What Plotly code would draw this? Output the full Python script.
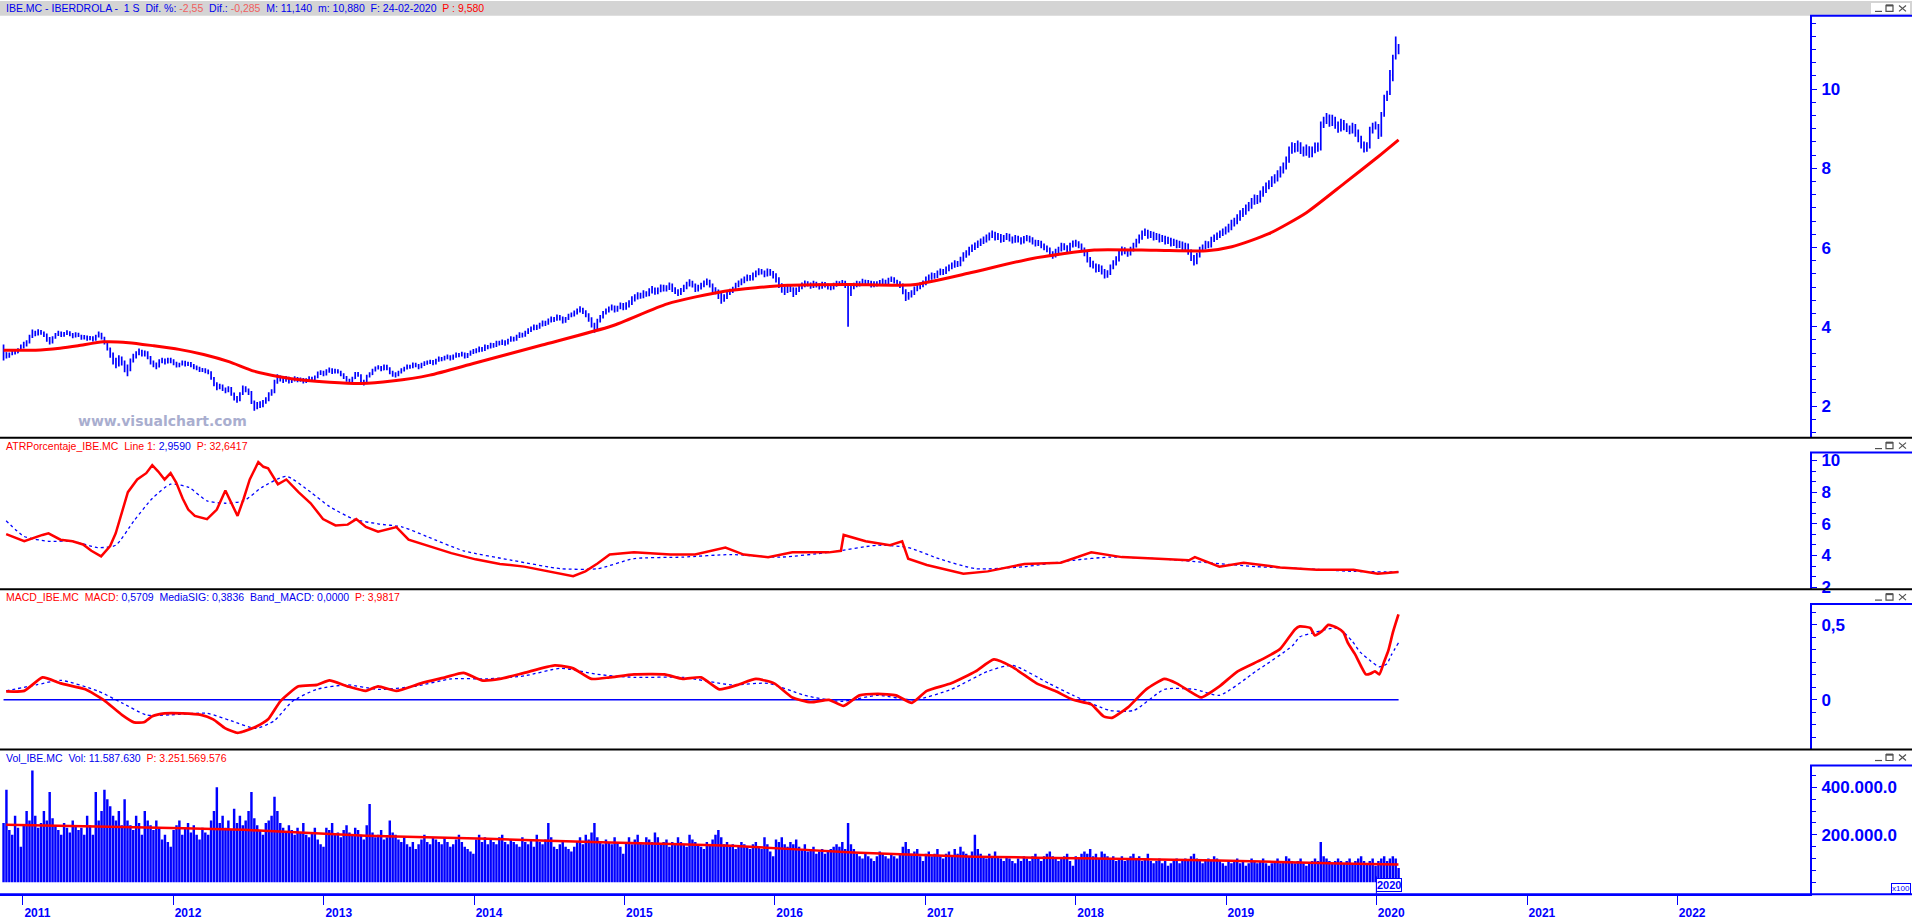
import pandas as pd
import plotly.graph_objects as go

W, H = 1912, 922
BLUE = "#0000FF"
RED = "#FF0000"

# ---------------- weekly price data (close / high / low) ----------------
first_open = 3.50
c10 = [3.35, 3.25, 3.30, 3.38, 3.35, 3.42, 3.50]
h10 = [3.55, 3.36, 3.35, 3.42, 3.42, 3.46, 3.55]
l10 = [3.15, 3.20, 3.22, 3.28, 3.30, 3.33, 3.40]
c11 = [3.55, 3.60, 3.75, 3.85, 3.82, 3.88, 3.85, 3.80, 3.70, 3.62, 3.72, 3.80, 3.85, 3.78, 3.82, 3.86, 3.80, 3.76, 3.82, 3.78, 3.72, 3.75, 3.70, 3.73, 3.68, 3.76, 3.82, 3.72, 3.60, 3.45, 3.30, 3.15, 3.05, 3.20, 3.10, 2.95, 2.90, 3.15, 3.25, 3.32, 3.38, 3.30, 3.35, 3.22, 3.10, 3.05, 3.00, 3.12, 3.15, 3.10, 3.18, 3.12]
h11 = [3.62, 3.66, 3.80, 3.93, 3.90, 3.94, 3.92, 3.88, 3.83, 3.74, 3.76, 3.84, 3.90, 3.88, 3.87, 3.91, 3.89, 3.84, 3.86, 3.85, 3.80, 3.79, 3.78, 3.77, 3.76, 3.80, 3.88, 3.85, 3.75, 3.63, 3.48, 3.35, 3.22, 3.28, 3.25, 3.15, 3.05, 3.20, 3.32, 3.38, 3.45, 3.42, 3.40, 3.38, 3.26, 3.15, 3.10, 3.18, 3.22, 3.20, 3.22, 3.22]
l11 = [3.45, 3.50, 3.58, 3.72, 3.76, 3.78, 3.80, 3.74, 3.62, 3.55, 3.58, 3.70, 3.77, 3.74, 3.75, 3.79, 3.76, 3.71, 3.73, 3.74, 3.67, 3.68, 3.65, 3.66, 3.63, 3.65, 3.73, 3.68, 3.55, 3.40, 3.22, 3.05, 2.95, 3.00, 3.02, 2.85, 2.75, 2.88, 3.10, 3.20, 3.28, 3.25, 3.25, 3.18, 3.05, 2.98, 2.93, 2.97, 3.08, 3.05, 3.07, 3.08]
c12 = [3.08, 3.02, 3.05, 3.10, 3.05, 3.08, 3.02, 2.98, 2.95, 2.90, 2.92, 2.88, 2.85, 2.70, 2.55, 2.45, 2.50, 2.42, 2.38, 2.45, 2.30, 2.20, 2.15, 2.30, 2.45, 2.40, 2.35, 2.10, 1.95, 2.05, 2.00, 2.10, 2.15, 2.30, 2.35, 2.60, 2.72, 2.68, 2.65, 2.70, 2.62, 2.66, 2.70, 2.65, 2.68, 2.62, 2.66, 2.70, 2.68, 2.72, 2.82, 2.85, 2.80]
h12 = [3.18, 3.12, 3.09, 3.15, 3.14, 3.12, 3.11, 3.06, 3.02, 2.99, 2.96, 2.95, 2.92, 2.88, 2.73, 2.60, 2.56, 2.54, 2.47, 2.50, 2.48, 2.34, 2.25, 2.35, 2.52, 2.50, 2.44, 2.38, 2.14, 2.10, 2.12, 2.15, 2.22, 2.35, 2.42, 2.66, 2.80, 2.77, 2.72, 2.76, 2.74, 2.71, 2.75, 2.73, 2.72, 2.71, 2.70, 2.75, 2.74, 2.77, 2.87, 2.90, 2.89]
l12 = [3.03, 2.97, 2.98, 3.02, 3.00, 3.01, 2.98, 2.93, 2.90, 2.86, 2.86, 2.83, 2.80, 2.66, 2.50, 2.40, 2.42, 2.38, 2.32, 2.35, 2.26, 2.14, 2.08, 2.12, 2.28, 2.35, 2.28, 2.05, 1.88, 1.92, 1.95, 1.97, 2.06, 2.12, 2.26, 2.32, 2.56, 2.62, 2.58, 2.61, 2.57, 2.58, 2.62, 2.60, 2.61, 2.57, 2.58, 2.63, 2.64, 2.65, 2.70, 2.78, 2.75]
c13 = [2.88, 2.92, 2.85, 2.90, 2.86, 2.80, 2.72, 2.65, 2.62, 2.70, 2.82, 2.78, 2.62, 2.58, 2.75, 2.80, 2.90, 2.95, 2.98, 2.92, 3.00, 2.95, 2.85, 2.80, 2.78, 2.85, 2.90, 2.95, 3.00, 2.98, 3.05, 3.02, 2.98, 3.05, 3.08, 3.10, 3.12, 3.08, 3.15, 3.20, 3.18, 3.22, 3.25, 3.20, 3.25, 3.30, 3.28, 3.32, 3.25, 3.30, 3.35, 3.38]
h13 = [2.93, 2.97, 2.95, 2.94, 2.93, 2.89, 2.83, 2.76, 2.69, 2.74, 2.86, 2.86, 2.80, 2.66, 2.79, 2.85, 2.94, 3.00, 3.03, 3.01, 3.05, 3.04, 2.98, 2.89, 2.85, 2.89, 2.95, 2.99, 3.05, 3.04, 3.10, 3.09, 3.06, 3.09, 3.13, 3.15, 3.17, 3.16, 3.19, 3.25, 3.24, 3.27, 3.30, 3.28, 3.30, 3.35, 3.34, 3.37, 3.35, 3.34, 3.40, 3.44]
l13 = [2.77, 2.84, 2.81, 2.82, 2.82, 2.75, 2.68, 2.61, 2.57, 2.59, 2.68, 2.74, 2.57, 2.52, 2.56, 2.72, 2.78, 2.87, 2.92, 2.88, 2.90, 2.90, 2.80, 2.74, 2.72, 2.75, 2.82, 2.87, 2.92, 2.94, 2.95, 2.98, 2.93, 2.95, 3.01, 3.04, 3.06, 3.03, 3.05, 3.12, 3.13, 3.15, 3.18, 3.15, 3.17, 3.22, 3.23, 3.25, 3.20, 3.21, 3.27, 3.31]
c14 = [3.40, 3.45, 3.42, 3.50, 3.48, 3.55, 3.52, 3.60, 3.58, 3.62, 3.58, 3.65, 3.70, 3.68, 3.75, 3.80, 3.78, 3.85, 3.90, 3.95, 4.00, 3.98, 4.05, 4.10, 4.08, 4.15, 4.20, 4.18, 4.25, 4.22, 4.15, 4.20, 4.28, 4.30, 4.35, 4.40, 4.45, 4.38, 4.30, 4.20, 4.05, 3.95, 4.15, 4.25, 4.35, 4.40, 4.45, 4.50, 4.42, 4.48, 4.55, 4.50]
h14 = [3.46, 3.50, 3.49, 3.55, 3.54, 3.60, 3.59, 3.65, 3.65, 3.68, 3.66, 3.70, 3.76, 3.75, 3.80, 3.86, 3.85, 3.90, 3.96, 4.01, 4.06, 4.05, 4.10, 4.16, 4.15, 4.21, 4.26, 4.25, 4.31, 4.30, 4.26, 4.25, 4.33, 4.36, 4.41, 4.46, 4.52, 4.48, 4.42, 4.34, 4.24, 4.10, 4.20, 4.30, 4.40, 4.46, 4.51, 4.56, 4.54, 4.53, 4.61, 4.60]
l14 = [3.33, 3.36, 3.37, 3.39, 3.43, 3.45, 3.47, 3.49, 3.53, 3.54, 3.52, 3.55, 3.62, 3.63, 3.65, 3.72, 3.73, 3.75, 3.82, 3.87, 3.91, 3.92, 3.95, 4.01, 4.02, 4.05, 4.11, 4.12, 4.15, 4.16, 4.08, 4.10, 4.17, 4.24, 4.26, 4.31, 4.36, 4.32, 4.24, 4.13, 3.98, 3.85, 3.92, 4.11, 4.21, 4.31, 4.36, 4.41, 4.36, 4.38, 4.44, 4.42]
c15 = [4.55, 4.60, 4.70, 4.75, 4.80, 4.78, 4.85, 4.82, 4.90, 4.95, 4.88, 4.92, 5.00, 4.95, 4.98, 5.05, 4.95, 4.90, 4.85, 4.92, 5.00, 5.08, 5.12, 5.05, 4.95, 5.00, 5.05, 5.10, 5.15, 5.05, 4.95, 4.90, 4.80, 4.70, 4.75, 4.85, 4.90, 4.95, 5.05, 5.10, 5.15, 5.20, 5.25, 5.22, 5.30, 5.35, 5.40, 5.38, 5.32, 5.40, 5.35, 5.30]
h15 = [4.62, 4.67, 4.77, 4.82, 4.87, 4.86, 4.92, 4.90, 4.97, 5.03, 4.99, 4.99, 5.07, 5.06, 5.05, 5.12, 5.09, 5.00, 4.95, 4.98, 5.06, 5.14, 5.20, 5.16, 5.09, 5.06, 5.11, 5.17, 5.22, 5.19, 5.09, 5.00, 4.94, 4.85, 4.82, 4.91, 4.96, 5.01, 5.11, 5.17, 5.22, 5.27, 5.32, 5.31, 5.37, 5.42, 5.48, 5.46, 5.42, 5.47, 5.46, 5.41]
l15 = [4.43, 4.49, 4.55, 4.64, 4.69, 4.71, 4.72, 4.76, 4.77, 4.84, 4.81, 4.82, 4.87, 4.89, 4.89, 4.93, 4.88, 4.83, 4.78, 4.80, 4.88, 4.95, 5.02, 4.99, 4.88, 4.89, 4.94, 5.00, 5.05, 4.99, 4.88, 4.82, 4.70, 4.58, 4.63, 4.70, 4.80, 4.85, 4.91, 5.00, 5.05, 5.10, 5.15, 5.16, 5.17, 5.25, 5.30, 5.32, 5.25, 5.27, 5.29, 5.22]
c16 = [5.20, 5.05, 4.95, 4.90, 5.00, 4.95, 4.85, 4.92, 5.00, 5.05, 5.10, 5.08, 5.02, 5.10, 5.05, 5.00, 5.08, 5.05, 5.00, 4.98, 5.05, 5.10, 5.08, 5.12, 5.05, 4.85, 5.00, 5.05, 5.10, 5.08, 5.15, 5.10, 5.12, 5.05, 5.10, 5.08, 5.12, 5.15, 5.10, 5.18, 5.20, 5.15, 5.10, 5.05, 4.90, 4.75, 4.80, 4.85, 4.95, 5.00, 5.05, 5.10]
h16 = [5.35, 5.25, 5.10, 5.02, 5.07, 5.06, 5.00, 4.99, 5.06, 5.12, 5.17, 5.15, 5.12, 5.16, 5.14, 5.10, 5.14, 5.13, 5.09, 5.05, 5.11, 5.16, 5.15, 5.18, 5.16, 5.10, 5.05, 5.11, 5.16, 5.15, 5.21, 5.19, 5.18, 5.16, 5.15, 5.15, 5.18, 5.22, 5.19, 5.24, 5.27, 5.25, 5.19, 5.15, 5.09, 4.95, 4.88, 4.92, 5.02, 5.07, 5.12, 5.17]
l16 = [5.12, 4.98, 4.86, 4.80, 4.85, 4.88, 4.75, 4.80, 4.88, 4.95, 5.00, 5.02, 4.96, 4.98, 4.99, 4.94, 4.96, 4.99, 4.94, 4.92, 4.94, 5.01, 5.03, 5.04, 4.98, 4.00, 4.78, 4.95, 5.00, 5.02, 5.04, 5.04, 5.05, 4.99, 5.00, 5.02, 5.03, 5.08, 5.04, 5.06, 5.13, 5.09, 5.03, 4.98, 4.82, 4.65, 4.68, 4.74, 4.80, 4.90, 4.95, 5.00]
c17 = [5.20, 5.25, 5.30, 5.28, 5.35, 5.40, 5.38, 5.45, 5.50, 5.55, 5.60, 5.58, 5.70, 5.80, 5.85, 5.95, 6.00, 6.05, 6.10, 6.15, 6.20, 6.25, 6.30, 6.35, 6.25, 6.30, 6.20, 6.25, 6.30, 6.22, 6.18, 6.25, 6.20, 6.15, 6.22, 6.25, 6.20, 6.15, 6.10, 6.12, 6.05, 6.00, 5.95, 5.85, 5.80, 5.90, 5.95, 6.05, 6.00, 5.95, 6.05, 6.10]
h17 = [5.27, 5.32, 5.37, 5.36, 5.42, 5.47, 5.46, 5.52, 5.57, 5.62, 5.68, 5.66, 5.77, 5.88, 5.93, 6.02, 6.08, 6.13, 6.18, 6.23, 6.28, 6.33, 6.38, 6.43, 6.40, 6.37, 6.34, 6.32, 6.37, 6.35, 6.28, 6.32, 6.30, 6.26, 6.29, 6.32, 6.30, 6.26, 6.20, 6.19, 6.17, 6.10, 6.05, 6.00, 5.91, 5.97, 6.02, 6.12, 6.11, 6.06, 6.12, 6.18]
l17 = [5.05, 5.14, 5.19, 5.21, 5.23, 5.30, 5.31, 5.33, 5.40, 5.45, 5.49, 5.51, 5.53, 5.65, 5.74, 5.80, 5.89, 5.94, 5.99, 6.04, 6.09, 6.13, 6.18, 6.24, 6.18, 6.19, 6.12, 6.14, 6.19, 6.15, 6.10, 6.12, 6.13, 6.08, 6.10, 6.16, 6.13, 6.08, 6.03, 6.04, 5.98, 5.93, 5.88, 5.77, 5.72, 5.75, 5.84, 5.90, 5.93, 5.88, 5.90, 6.00]
c18 = [6.10, 6.05, 5.95, 5.85, 5.70, 5.60, 5.55, 5.45, 5.50, 5.40, 5.30, 5.35, 5.50, 5.60, 5.70, 5.85, 5.95, 5.90, 5.85, 5.95, 6.05, 6.15, 6.25, 6.35, 6.40, 6.30, 6.35, 6.25, 6.30, 6.20, 6.25, 6.15, 6.20, 6.10, 6.15, 6.05, 6.10, 6.00, 6.05, 5.90, 5.75, 5.65, 5.80, 5.95, 6.00, 6.10, 6.05, 6.20, 6.25, 6.30, 6.35, 6.40, 6.45]
h18 = [6.20, 6.16, 6.10, 6.00, 5.90, 5.76, 5.67, 5.60, 5.58, 5.55, 5.46, 5.43, 5.57, 5.68, 5.78, 5.92, 6.03, 6.01, 5.96, 6.02, 6.12, 6.22, 6.33, 6.43, 6.48, 6.45, 6.42, 6.40, 6.37, 6.35, 6.32, 6.30, 6.27, 6.25, 6.22, 6.20, 6.17, 6.15, 6.12, 6.10, 5.95, 5.81, 5.87, 6.02, 6.08, 6.17, 6.16, 6.27, 6.33, 6.38, 6.43, 6.48, 6.53]
l18 = [6.02, 5.98, 5.88, 5.78, 5.62, 5.50, 5.47, 5.37, 5.38, 5.32, 5.22, 5.24, 5.31, 5.45, 5.55, 5.65, 5.80, 5.83, 5.77, 5.80, 5.90, 6.00, 6.10, 6.20, 6.29, 6.22, 6.24, 6.18, 6.19, 6.13, 6.14, 6.08, 6.09, 6.03, 6.04, 5.98, 5.99, 5.93, 5.94, 5.82, 5.66, 5.55, 5.58, 5.75, 5.89, 5.95, 5.98, 6.00, 6.14, 6.19, 6.24, 6.29, 6.33]
c19 = [6.50, 6.60, 6.65, 6.75, 6.85, 6.90, 7.00, 7.05, 7.15, 7.25, 7.20, 7.35, 7.45, 7.55, 7.60, 7.70, 7.75, 7.85, 7.95, 8.05, 8.20, 8.45, 8.55, 8.50, 8.60, 8.45, 8.40, 8.50, 8.35, 8.45, 8.55, 8.50, 9.10, 9.20, 9.30, 9.15, 9.25, 9.10, 9.00, 9.15, 9.05, 9.00, 8.95, 9.05, 8.90, 8.75, 8.60, 8.50, 8.55, 8.95, 9.05, 9.10]
h19 = [6.60, 6.70, 6.75, 6.84, 6.94, 7.00, 7.09, 7.15, 7.25, 7.34, 7.33, 7.44, 7.55, 7.64, 7.70, 7.80, 7.85, 7.95, 8.05, 8.15, 8.30, 8.55, 8.66, 8.64, 8.70, 8.66, 8.55, 8.60, 8.56, 8.55, 8.65, 8.65, 9.18, 9.30, 9.40, 9.36, 9.35, 9.30, 9.18, 9.25, 9.22, 9.14, 9.08, 9.15, 9.12, 8.98, 8.82, 8.68, 8.66, 9.05, 9.15, 9.18]
l19 = [6.38, 6.44, 6.53, 6.59, 6.68, 6.77, 6.83, 6.92, 6.98, 7.08, 7.10, 7.14, 7.28, 7.38, 7.47, 7.53, 7.62, 7.67, 7.77, 7.87, 7.97, 8.14, 8.37, 8.40, 8.42, 8.36, 8.30, 8.32, 8.27, 8.28, 8.38, 8.42, 8.45, 9.02, 9.12, 9.05, 9.07, 9.00, 8.90, 8.93, 8.96, 8.92, 8.86, 8.88, 8.80, 8.66, 8.50, 8.40, 8.42, 8.50, 8.88, 8.98]
c20 = [8.85, 9.35, 9.80, 9.88, 10.35, 10.80, 11.12, 10.90]
h20 = [9.12, 9.42, 9.86, 9.96, 10.48, 10.87, 11.33, 11.14]
l20 = [8.74, 8.80, 9.30, 9.70, 9.85, 10.20, 10.75, 10.88]

# ---------------- weekly volume (thousands of axis units, x100 shares) ----------------
v10 = [250, 390, 220, 200, 280, 230, 150]
v11 = [240, 300, 260, 470, 280, 230, 250, 300, 260, 380, 270, 240, 220, 200, 250, 230, 210, 260, 240, 220, 230, 200, 280, 240, 200, 380, 260, 300, 390, 350, 320, 280, 260, 300, 240, 350, 260, 240, 220, 280, 250, 200, 300, 260, 240, 220, 260, 230, 180, 200, 170, 150]
v12 = [220, 240, 260, 200, 230, 250, 210, 240, 200, 180, 230, 210, 200, 260, 300, 400, 250, 280, 230, 260, 220, 310, 250, 280, 240, 260, 300, 380, 270, 240, 220, 200, 250, 260, 280, 360, 300, 250, 230, 210, 240, 220, 200, 230, 210, 250, 200, 190, 210, 230, 180, 160, 150]
v13 = [230, 220, 250, 200, 210, 190, 220, 240, 210, 200, 230, 220, 200, 180, 240, 330, 210, 190, 200, 220, 180, 190, 260, 210, 200, 180, 170, 190, 160, 150, 170, 140, 160, 180, 200, 170, 160, 190, 180, 170, 160, 190, 170, 150, 160, 180, 200, 170, 150, 140, 130, 120]
v14 = [180, 200, 170, 190, 160, 180, 170, 160, 190, 200, 170, 160, 180, 170, 160, 150, 190, 170, 160, 180, 150, 200, 170, 160, 180, 250, 190, 150, 140, 160, 170, 150, 140, 130, 150, 170, 190, 160, 200, 180, 210, 250, 190, 170, 160, 180, 170, 160, 190, 170, 150, 120]
v15 = [170, 190, 160, 180, 200, 170, 160, 190, 180, 170, 210, 190, 160, 170, 180, 150, 170, 160, 190, 170, 160, 150, 200, 180, 170, 160, 150, 140, 170, 160, 180, 200, 220, 190, 160, 170, 150, 160, 140, 150, 170, 160, 150, 140, 160, 170, 150, 140, 190, 160, 130, 110]
v16 = [180, 170, 190, 160, 150, 170, 160, 180, 150, 140, 160, 130, 140, 150, 120, 130, 140, 120, 130, 140, 150, 160, 150, 170, 140, 250, 160, 140, 120, 110, 100, 120, 110, 100, 90, 110, 130, 120, 110, 100, 120, 110, 100, 120, 150, 170, 140, 120, 130, 140, 110, 90]
v17 = [120, 130, 110, 120, 140, 110, 100, 120, 130, 110, 140, 120, 150, 130, 120, 110, 130, 200, 140, 120, 110, 100, 120, 110, 130, 110, 100, 90, 110, 100, 90, 80, 100, 90, 110, 100, 90, 110, 120, 100, 90, 110, 120, 130, 110, 100, 90, 100, 110, 120, 90, 70]
v18 = [110, 100, 120, 130, 120, 140, 110, 120, 100, 130, 120, 110, 100, 110, 90, 100, 110, 90, 100, 110, 120, 100, 110, 90, 100, 120, 90, 80, 90, 100, 80, 90, 70, 80, 90, 100, 80, 90, 100, 90, 110, 120, 100, 90, 80, 90, 100, 90, 110, 100, 90, 80, 70]
v19 = [90, 80, 90, 100, 80, 90, 70, 80, 100, 90, 80, 90, 100, 80, 70, 80, 90, 100, 80, 90, 110, 100, 90, 80, 90, 100, 80, 70, 80, 90, 100, 90, 170, 110, 100, 90, 80, 90, 100, 90, 80, 90, 100, 80, 90, 100, 110, 90, 80, 90, 100, 70]
v20 = [90, 100, 110, 90, 100, 110, 100, 60]

# ---------------- indicator lines (time as fractional year) ----------------
ma_dates = ["2010-11-15", "2011-02-01", "2011-04-01", "2011-05-15", "2011-07-15", "2011-09-15", "2011-11-15", "2012-01-15", "2012-03-15", "2012-05-15", "2012-07-15", "2012-09-15", "2012-11-15", "2013-01-15", "2013-04-01", "2013-06-15", "2013-09-15", "2014-01-01", "2014-06-15", "2014-12-01", "2015-04-15", "2015-09-01", "2016-02-01", "2016-07-01", "2016-12-01", "2017-04-15", "2017-09-15", "2018-02-15", "2018-07-15", "2018-11-15", "2019-01-15", "2019-04-15", "2019-07-15", "2019-10-15", "2020-01-06", "2020-02-24"]
ma_vals = [3.41, 3.41, 3.46, 3.52, 3.62, 3.60, 3.52, 3.43, 3.30, 3.12, 2.88, 2.74, 2.65, 2.60, 2.57, 2.63, 2.78, 3.08, 3.54, 4.02, 4.58, 4.90, 5.05, 5.07, 5.06, 5.35, 5.72, 5.94, 5.93, 5.92, 6.02, 6.35, 6.88, 7.62, 8.30, 8.72]

atr_t = [2010.888, 2011.009, 2011.13, 2011.17, 2011.25, 2011.33, 2011.40, 2011.455, 2011.52, 2011.58, 2011.617, 2011.66, 2011.698, 2011.76, 2011.82, 2011.86, 2011.90, 2011.942, 2011.982, 2012.02, 2012.063, 2012.10, 2012.144, 2012.225, 2012.29, 2012.347, 2012.387, 2012.428, 2012.469, 2012.509, 2012.566, 2012.60, 2012.631, 2012.696, 2012.752, 2012.833, 2012.914, 2012.996, 2013.077, 2013.158, 2013.215, 2013.279, 2013.36, 2013.482, 2013.563, 2013.685, 2013.847, 2014.009, 2014.171, 2014.333, 2014.496, 2014.658, 2014.739, 2014.82, 2014.901, 2015.063, 2015.306, 2015.469, 2015.671, 2015.793, 2015.955, 2016.117, 2016.36, 2016.44, 2016.458, 2016.604, 2016.766, 2016.847, 2016.887, 2017.009, 2017.252, 2017.414, 2017.658, 2017.9, 2018.103, 2018.306, 2018.55, 2018.752, 2018.792, 2018.955, 2019.117, 2019.36, 2019.603, 2019.847, 2020.009, 2020.147]
atr_v = [5.35, 4.9, 5.3, 5.4, 5.0, 4.9, 4.7, 4.3, 3.95, 4.6, 5.4, 6.8, 8.0, 8.8, 9.2, 9.7, 9.3, 8.8, 9.2, 8.6, 7.6, 6.9, 6.5, 6.3, 6.9, 8.1, 7.3, 6.5, 7.6, 8.8, 9.9, 9.6, 9.5, 8.5, 8.8, 8.0, 7.3, 6.3, 5.9, 5.95, 6.3, 5.8, 5.5, 5.8, 5.0, 4.65, 4.15, 3.76, 3.47, 3.3, 3.0, 2.7, 3.0, 3.5, 4.06, 4.2, 4.06, 4.06, 4.5, 4.06, 3.9, 4.2, 4.2, 4.3, 5.3, 4.9, 4.65, 4.9, 3.8, 3.4, 2.85, 3.0, 3.47, 3.55, 4.2, 3.9, 3.8, 3.7, 3.9, 3.3, 3.55, 3.25, 3.1, 3.1, 2.85, 2.96]
atrs_t = [2010.888, 2011.009, 2011.171, 2011.333, 2011.496, 2011.617, 2011.739, 2011.86, 2011.982, 2012.104, 2012.225, 2012.347, 2012.469, 2012.59, 2012.752, 2012.914, 2013.036, 2013.198, 2013.36, 2013.523, 2013.685, 2013.928, 2014.252, 2014.577, 2014.82, 2015.063, 2015.387, 2015.712, 2016.036, 2016.36, 2016.685, 2016.887, 2017.09, 2017.333, 2017.658, 2017.982, 2018.225, 2018.55, 2018.874, 2019.198, 2019.522, 2019.847, 2020.147]
atrs_v = [6.2, 5.2, 4.9, 4.9, 4.5, 4.65, 6.2, 7.6, 8.5, 8.3, 7.45, 7.3, 7.45, 8.3, 9.0, 8.0, 7.1, 6.3, 6.0, 5.8, 5.2, 4.3, 3.7, 3.17, 3.17, 3.8, 3.9, 4.06, 3.9, 4.2, 4.65, 4.5, 3.8, 3.17, 3.3, 3.7, 3.9, 3.8, 3.55, 3.3, 3.17, 3.0, 2.96]

macd_t = [2010.888, 2011.009, 2011.131, 2011.252, 2011.415, 2011.536, 2011.658, 2011.739, 2011.804, 2011.86, 2011.942, 2012.063, 2012.185, 2012.266, 2012.347, 2012.428, 2012.469, 2012.55, 2012.631, 2012.712, 2012.833, 2012.955, 2013.036, 2013.158, 2013.279, 2013.36, 2013.482, 2013.644, 2013.806, 2013.928, 2014.05, 2014.171, 2014.333, 2014.536, 2014.658, 2014.779, 2014.901, 2015.063, 2015.266, 2015.387, 2015.509, 2015.631, 2015.752, 2015.874, 2015.996, 2016.117, 2016.239, 2016.36, 2016.458, 2016.563, 2016.685, 2016.806, 2016.912, 2017.009, 2017.171, 2017.333, 2017.455, 2017.577, 2017.739, 2017.86, 2017.982, 2018.103, 2018.185, 2018.241, 2018.347, 2018.468, 2018.59, 2018.671, 2018.752, 2018.833, 2018.955, 2019.077, 2019.239, 2019.36, 2019.458, 2019.49, 2019.56, 2019.59, 2019.64, 2019.68, 2019.74, 2019.78, 2019.81, 2019.86, 2019.90, 2019.93, 2019.96, 2019.99, 2020.02, 2020.05, 2020.08, 2020.11, 2020.147]
macd_v = [0.056, 0.06, 0.15, 0.11, 0.07, 0.0, -0.1, -0.15, -0.15, -0.11, -0.09, -0.09, -0.1, -0.13, -0.19, -0.22, -0.21, -0.18, -0.13, -0.01, 0.09, 0.10, 0.13, 0.09, 0.06, 0.09, 0.06, 0.11, 0.15, 0.18, 0.13, 0.14, 0.18, 0.23, 0.21, 0.14, 0.15, 0.17, 0.17, 0.14, 0.15, 0.07, 0.10, 0.14, 0.11, 0.016, -0.016, 0.0, -0.04, 0.03, 0.04, 0.03, -0.02, 0.06, 0.11, 0.19, 0.27, 0.22, 0.11, 0.06, 0.0, -0.03, -0.11, -0.12, -0.05, 0.07, 0.14, 0.11, 0.06, 0.016, 0.09, 0.19, 0.27, 0.34, 0.47, 0.49, 0.48, 0.43, 0.46, 0.50, 0.48, 0.45, 0.38, 0.30, 0.22, 0.17, 0.175, 0.19, 0.17, 0.25, 0.33, 0.45, 0.57]
sig_t = [2010.888, 2011.09, 2011.252, 2011.496, 2011.658, 2011.82, 2011.982, 2012.225, 2012.387, 2012.55, 2012.671, 2012.793, 2012.955, 2013.158, 2013.36, 2013.604, 2013.847, 2014.09, 2014.333, 2014.577, 2014.82, 2015.063, 2015.387, 2015.712, 2015.955, 2016.198, 2016.442, 2016.685, 2016.928, 2017.171, 2017.414, 2017.577, 2017.82, 2017.982, 2018.225, 2018.387, 2018.59, 2018.792, 2018.955, 2019.198, 2019.441, 2019.49, 2019.59, 2019.72, 2019.76, 2019.84, 2019.89, 2019.96, 2020.02, 2020.07, 2020.10, 2020.147]
sig_v = [0.06, 0.10, 0.13, 0.06, -0.02, -0.1, -0.1, -0.09, -0.14, -0.19, -0.14, -0.01, 0.07, 0.10, 0.07, 0.09, 0.14, 0.14, 0.16, 0.21, 0.17, 0.15, 0.15, 0.10, 0.11, 0.03, -0.01, 0.03, 0.0, 0.07, 0.19, 0.23, 0.11, 0.03, -0.07, -0.07, 0.07, 0.07, 0.03, 0.19, 0.36, 0.42, 0.45, 0.48, 0.47, 0.39, 0.32, 0.26, 0.22, 0.24, 0.30, 0.38]
band_macd = 0.0

vma_t = [2010.888, 2011.66, 2012.47, 2013.28, 2014.09, 2014.9, 2015.71, 2016.52, 2017.33, 2018.14, 2018.95, 2019.76, 2020.147]
vma_k = [242, 233, 221, 196, 183, 167, 154, 125, 108, 100, 92, 79, 75]

years = list(range(2011, 2023))
x_start, x_end = 2010.847, 2022.882

# ---------------- assemble ----------------
close = c10 + c11 + c12 + c13 + c14 + c15 + c16 + c17 + c18 + c19 + c20
high = h10 + h11 + h12 + h13 + h14 + h15 + h16 + h17 + h18 + h19 + h20
low = l10 + l11 + l12 + l13 + l14 + l15 + l16 + l17 + l18 + l19 + l20
vol_k = v10 + v11 + v12 + v13 + v14 + v15 + v16 + v17 + v18 + v19 + v20
n = min(len(close), len(high), len(low))
dates = pd.date_range("2010-11-15", periods=n, freq="W-MON")
opens = [first_open] + close[:n - 1]
nv = min(n, len(vol_k))


def fy(t):
    y = int(t)
    return pd.Timestamp(year=y, month=1, day=1) + pd.Timedelta(days=(t - y) * 365.25)


def pts(ts, vs):
    m = min(len(ts), len(vs))
    return [fy(t) for t in ts[:m]], list(vs[:m])


def PX(p):
    return p / W


def PY(p):
    return 1 - p / H


fig = go.Figure()
fig.add_trace(go.Ohlc(x=dates, open=opens, high=high[:n], low=low[:n], close=close[:n],
                      increasing=dict(line=dict(color=BLUE, width=1.7)),
                      decreasing=dict(line=dict(color=BLUE, width=1.7)),
                      tickwidth=0.3, xaxis="x", yaxis="y", hoverinfo="skip"))
m = min(len(ma_dates), len(ma_vals))
fig.add_trace(go.Scatter(x=[pd.Timestamp(d) for d in ma_dates[:m]], y=ma_vals[:m], mode="lines",
                         line=dict(color=RED, width=3, shape="spline", smoothing=0.6),
                         xaxis="x", yaxis="y", hoverinfo="skip"))

ax, ay = pts(atrs_t, atrs_v)
fig.add_trace(go.Scatter(x=ax, y=ay, mode="lines", line=dict(color=BLUE, width=1.3, dash="dot", shape="spline", smoothing=0.6),
                         xaxis="x2", yaxis="y2", hoverinfo="skip"))
ax, ay = pts(atr_t, atr_v)
fig.add_trace(go.Scatter(x=ax, y=ay, mode="lines", line=dict(color=RED, width=2.5),
                         xaxis="x2", yaxis="y2", hoverinfo="skip"))

fig.add_trace(go.Scatter(x=[dates[0], dates[n - 1]], y=[band_macd, band_macd], mode="lines",
                         line=dict(color=BLUE, width=1.5), xaxis="x3", yaxis="y3", hoverinfo="skip"))
ax, ay = pts(sig_t, sig_v)
fig.add_trace(go.Scatter(x=ax, y=ay, mode="lines", line=dict(color=BLUE, width=1.3, dash="dot", shape="spline", smoothing=0.6),
                         xaxis="x3", yaxis="y3", hoverinfo="skip"))
ax, ay = pts(macd_t, macd_v)
fig.add_trace(go.Scatter(x=ax, y=ay, mode="lines", line=dict(color=RED, width=2.7, shape="spline", smoothing=0.5),
                         xaxis="x3", yaxis="y3", hoverinfo="skip"))

fig.add_trace(go.Bar(x=dates[:nv], y=[v * 1000 for v in vol_k[:nv]], marker=dict(color=BLUE, line=dict(width=0)),
                     xaxis="x4", yaxis="y4", hoverinfo="skip"))
ax, ay = pts(vma_t, vma_k)
fig.add_trace(go.Scatter(x=ax, y=[v * 1000 for v in ay], mode="lines",
                         line=dict(color=RED, width=2.5, shape="spline", smoothing=0.6),
                         xaxis="x4", yaxis="y4", hoverinfo="skip"))

xr = [fy(x_start), fy(x_end)]
xdom = [0, PX(1810)]
hid = dict(range=xr, domain=xdom, visible=False, showgrid=False, zeroline=False)
TF = dict(family="Liberation Sans", size=17, color=BLUE, weight="bold")


def yax(dom, rng, **kw):
    d = dict(domain=dom, range=rng, side="right", showgrid=False, zeroline=False,
             showline=True, linecolor=BLUE, linewidth=2, ticks="outside", ticklen=5,
             tickcolor=BLUE, tickwidth=1, tickfont=TF, ticklabelstandoff=1, fixedrange=True)
    d.update(kw)
    return d


def minor(dt):
    return dict(tick0=0, dtick=dt, ticks="outside", ticklen=4, tickcolor=BLUE, tickwidth=1, showgrid=False)


fig.update_layout(
    width=W, height=H, margin=dict(l=0, r=0, t=0, b=0),
    paper_bgcolor="white", plot_bgcolor="white", showlegend=False,
    separators=",.", bargap=0.15,
    xaxis=dict(hid, anchor="y", rangeslider=dict(visible=False)),
    xaxis2=dict(hid, anchor="y2"),
    xaxis3=dict(hid, anchor="y3"),
    xaxis4=dict(range=xr, domain=xdom, anchor="y4", showgrid=False, zeroline=False,
                showline=True, linecolor=BLUE, linewidth=2, ticks="outside", ticklen=9,
                tickcolor=BLUE, tickwidth=1, tickmode="array", ticklabelstandoff=6,
                tickvals=[pd.Timestamp(year=y, month=1, day=1) for y in years],
                ticktext=[str(y) for y in years], ticklabelposition="outside right",
                tickfont=dict(family="Liberation Sans", size=12, color=BLUE, weight="bold")),
    yaxis=yax([PY(441), PY(15)], [1.2, 11.85], anchor="x", tickmode="linear", tick0=0, dtick=2, minor=minor(1 / 3)),
    yaxis2=yax([PY(594), PY(456)], [1.875, 10.5], anchor="x2", tickmode="linear", tick0=0, dtick=2, minor=minor(2 / 3)),
    yaxis3=yax([PY(756), PY(609)], [-0.332, 0.639], anchor="x3", tickmode="linear", tick0=0, dtick=0.5, minor=minor(1 / 12)),
    yaxis4=yax([PY(902), PY(772)], [-50000, 491700], anchor="x4", tickmode="array",
               tickvals=[200000, 400000], ticktext=["200.000.0", "400.000.0"], minor=minor(50000)),
)

shapes = []


def seg(x0, y0, x1, y1, color, w):
    shapes.append(dict(type="line", xref="paper", yref="paper", x0=PX(x0), x1=PX(x1), y0=PY(y0), y1=PY(y1),
                       line=dict(color=color, width=w)))


shapes.append(dict(type="rect", xref="paper", yref="paper", x0=0, x1=1, y0=PY(15), y1=1,
                   fillcolor="#D4D4D4", line=dict(width=0), layer="below"))
shapes.append(dict(type="rect", xref="paper", yref="paper", x0=PX(1871), x1=PX(1910), y0=PY(13), y1=PY(2),
                   fillcolor="white", line=dict(width=0), layer="below"))
for yy in (441, 594, 756):
    seg(0, yy, W, yy, "black", 2)
for yy in (15, 456, 609, 772):
    seg(1810, yy, W, yy, BLUE, 2)
seg(0, 902, W, 902, BLUE, 2)
shapes.append(dict(type="line", xref="x4", yref="paper", x0=pd.Timestamp("2020-01-01"), x1=pd.Timestamp("2020-01-01"),
                   y0=PY(902), y1=PY(884), line=dict(color=BLUE, width=1)))

# window buttons (minimise / maximise / close) for every panel
BC = "#505050"
for yc in (7.5, 449, 602, 764):
    seg(1875, yc + 3, 1882, yc + 3, BC, 1.2)
    shapes.append(dict(type="rect", xref="paper", yref="paper", x0=PX(1886), x1=PX(1893), y0=PY(yc + 3), y1=PY(yc - 3),
                       line=dict(color=BC, width=1.2)))
    seg(1886, yc - 3, 1893, yc - 3, BC, 2)
    seg(1899, yc - 3, 1906, yc + 3, BC, 1.2)
    seg(1899, yc + 3, 1906, yc - 3, BC, 1.2)
fig.update_layout(shapes=shapes)

B = "#0000EE"
S = "#F06060"


def sp(txt, col):
    return '<span style="color:%s">%s</span>' % (col, txt)


NB = "&nbsp;"
title = (sp("IBE.MC - IBERDROLA -" + NB + " 1 S" + NB + " Dif. %: ", B) + sp("-2,55", S) +
         sp(NB + " Dif.: ", B) + sp("-0,285", S) +
         sp(NB + " M: 11,140" + NB + " m: 10,880" + NB + " F: 24-02-2020" + NB + " ", B) + sp("P : 9,580", RED))
atr_title = sp("ATRPorcentaje_IBE.MC" + NB + " Line 1: ", RED) + sp("2,9590", B) + sp(NB + " P: 32,6417", RED)
macd_title = (sp("MACD_IBE.MC" + NB + " MACD: ", RED) + sp("0,5709" + NB + " MediaSIG: 0,3836" + NB + " Band_MACD: 0,0000", B) +
              sp(NB + " P: 3,9817", RED))
vol_title = sp("Vol_IBE.MC" + NB + " Vol: 11.587.630", B) + sp(NB + " P: 3.251.569.576", RED)

HF = dict(family="Liberation Sans", size=10.5)
ann = []
for txt, yy in ((title, 7.5), (atr_title, 449), (macd_title, 602), (vol_title, 764)):
    ann.append(dict(text=txt, xref="paper", yref="paper", x=PX(4), y=PY(yy), xanchor="left", yanchor="middle",
                    showarrow=False, font=HF))
ann.append(dict(text="www.visualchart.com", xref="paper", yref="paper", x=PX(76), y=PY(424), xanchor="left",
                yanchor="middle", showarrow=False,
                font=dict(family="DejaVu Sans", size=14, color="#A9AECF", weight="bold")))
ann.append(dict(text="2020", xref="x4", yref="paper", x=pd.Timestamp("2020-01-01"), y=PY(893), xanchor="left",
                yanchor="middle", showarrow=False, bgcolor="white", bordercolor=BLUE, borderwidth=1, borderpad=0,
                font=dict(family="Liberation Sans", size=11, color=BLUE, weight="bold")))
ann.append(dict(text="x100", xref="paper", yref="paper", x=PX(1911), y=PY(896), xanchor="right",
                yanchor="middle", showarrow=False, bgcolor="white", bordercolor=BLUE, borderwidth=1, borderpad=0,
                font=dict(family="Liberation Sans", size=8, color=BLUE)))
fig.update_layout(annotations=ann)

fig.write_html("out.html", include_plotlyjs=True, config={"displayModeBar": False},
               post_script="document.body.style.margin='0';document.body.style.overflow='hidden';")
